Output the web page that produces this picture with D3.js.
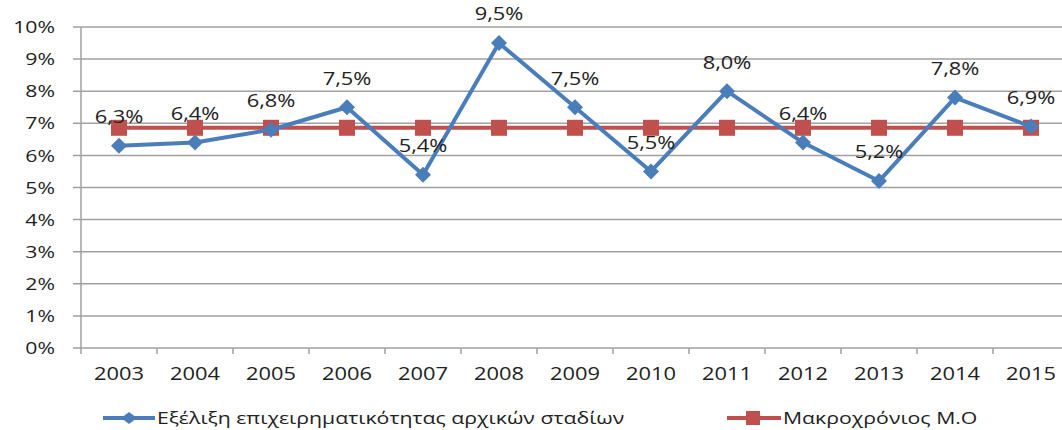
<!DOCTYPE html>
<html><head><meta charset="utf-8">
<script src="https://cdn.jsdelivr.net/npm/d3@7"></script>
<style>body{margin:0;background:#fff}svg{display:block}</style>
</head><body><svg id="c" width="1062" height="430"></svg>
<script>
const years = ["2003","2004","2005","2006","2007","2008","2009","2010","2011","2012","2013","2014","2015"];
const earlyStage = [6.3,6.4,6.8,7.5,5.4,9.5,7.5,5.5,8.0,6.4,5.2,7.8,6.9];
const longTermMean = [6.86,6.86,6.86,6.86,6.86,6.86,6.86,6.86,6.86,6.86,6.86,6.86,6.86];
const yTicks = [0,1,2,3,4,5,6,7,8,9,10];
const seriesNames = ["Εξέλιξη επιχειρηματικότητας αρχικών σταδίων","Μακροχρόνιος Μ.Ο"];

const svg = d3.select("#c");
const font = "'Open Sans', 'DejaVu Sans', sans-serif";
const SX = 1.25;
const x = d3.scaleBand().domain(years).range([81, 1069]);
const y = d3.scaleLinear().domain([0,10]).range([348, 27]);
const cx = d => x(d) + x.bandwidth()/2;
const tr = (px,py) => `translate(${px},${py}) scale(${SX},1)`;

// gridlines
svg.append("g").selectAll("line").data(yTicks).join("line")
  .attr("x1",73).attr("x2",1062).attr("y1",d=>y(d)).attr("y2",d=>y(d))
  .attr("stroke","#a0a0a0").attr("stroke-width",1.5);
svg.append("line").attr("x1",81).attr("x2",81).attr("y1",27).attr("y2",348)
  .attr("stroke","#a0a0a0").attr("stroke-width",1.5);
svg.append("g").selectAll("line").data(years).join("line")
  .attr("x1",d=>x(d)).attr("x2",d=>x(d)).attr("y1",348).attr("y2",354)
  .attr("stroke","#a0a0a0").attr("stroke-width",1.5);
// y labels
svg.append("g").selectAll("text").data(yTicks).join("text")
  .attr("transform",d=>tr(55,y(d))).attr("dy","0.36em").attr("text-anchor","end")
  .attr("font-family",font).attr("font-size",17).attr("fill","#222")
  .text(d=>d+"%");
// x labels
svg.append("g").selectAll("text").data(years).join("text")
  .attr("transform",d=>tr(cx(d),374)).attr("dy","0.36em").attr("text-anchor","middle")
  .attr("font-family",font).attr("font-size",17.5).attr("fill","#222")
  .text(d=>d);

const line = d3.line().x((d,i)=>cx(years[i])).y(d=>y(d));
svg.append("path").datum(longTermMean).attr("d",line).attr("fill","none")
  .attr("stroke","#c0504d").attr("stroke-width",4);
svg.append("g").selectAll("rect").data(longTermMean).join("rect")
  .attr("x",(d,i)=>cx(years[i])-8).attr("y",d=>y(d)-8).attr("width",16).attr("height",16)
  .attr("fill","#c0504d");

svg.append("path").datum(earlyStage).attr("d",line).attr("fill","none")
  .attr("stroke","#4a7ebb").attr("stroke-width",4).attr("stroke-linejoin","round");
const diamond = (px,py,rx,ry)=>`M${px},${py-ry}L${px+rx},${py}L${px},${py+ry}L${px-rx},${py}Z`;
svg.append("g").selectAll("path").data(earlyStage).join("path")
  .attr("d",(d,i)=>diamond(cx(years[i]),y(d),8,8)).attr("fill","#4a7ebb");
svg.append("g").selectAll("text").data(earlyStage).join("text")
  .attr("transform",(d,i)=>tr(cx(years[i]),y(d)-29)).attr("dy","0.36em").attr("text-anchor","middle")
  .attr("font-family",font).attr("font-size",17.5).attr("fill","#222")
  .text(d=>d.toFixed(1).replace(".",",")+"%");

// legend
const LY = 418;
const lg = svg.append("g");
lg.append("line").attr("x1",103).attr("x2",155).attr("y1",LY).attr("y2",LY).attr("stroke","#4a7ebb").attr("stroke-width",4);
lg.append("path").attr("d",diamond(129,LY,8,6)).attr("fill","#4a7ebb");
lg.append("text").attr("transform",tr(157,LY)).attr("dy","0.36em").attr("font-family",font).attr("font-size",17).attr("fill","#222").text(seriesNames[0]);
lg.append("line").attr("x1",727).attr("x2",781).attr("y1",LY).attr("y2",LY).attr("stroke","#c0504d").attr("stroke-width",4);
lg.append("rect").attr("x",746).attr("y",LY-7).attr("width",14).attr("height",14).attr("fill","#c0504d");
lg.append("text").attr("transform",tr(783,LY)).attr("dy","0.36em").attr("font-family",font).attr("font-size",17).attr("fill","#222").text(seriesNames[1]);
</script></body></html>
